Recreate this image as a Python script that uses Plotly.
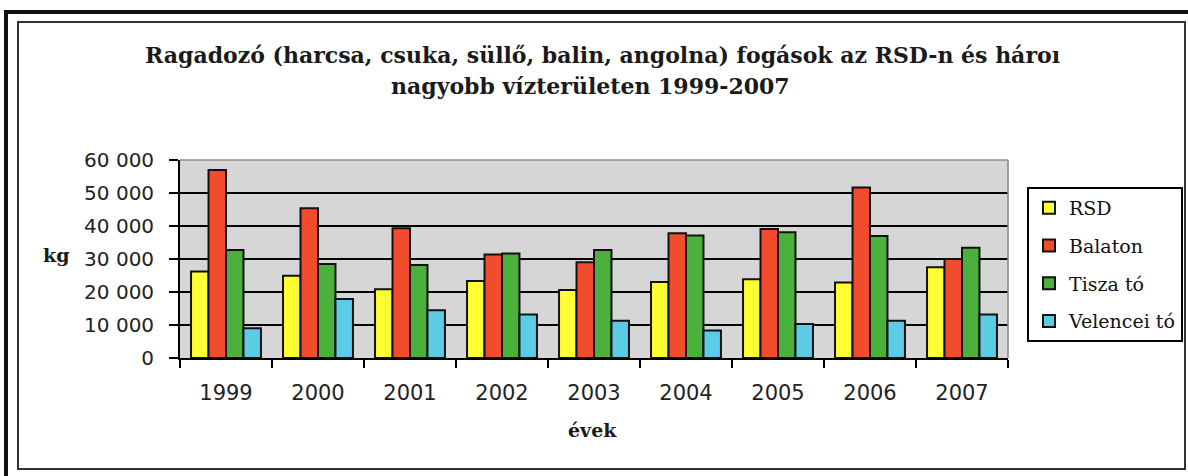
import plotly.graph_objects as go

years = ["1999", "2000", "2001", "2002", "2003", "2004", "2005", "2006", "2007"]
rsd = [26200, 24900, 20800, 23300, 20600, 23000, 23900, 22900, 27500]
balaton = [57000, 45400, 39300, 31400, 29000, 37800, 39100, 51700, 30000]
tisza = [32700, 28500, 28200, 31700, 32700, 37100, 38100, 37000, 33400]
velencei = [9000, 17900, 14500, 13200, 11300, 8300, 10300, 11300, 13200]
series_names = ["RSD", "Balaton", "Tisza tó", "Velencei tó"]
y_ticks = [0, 10000, 20000, 30000, 40000, 50000, 60000]

colors = ["#FFFF33", "#F34B2E", "#4CB03C", "#5CCBE6"]

W, H = 1188, 476
def px(x):
    return x / W
def py(y):
    return 1 - y / H

x0, x1 = 180, 1008
y0, y1 = 160, 358

fig = go.Figure()
for i, (name, vals) in enumerate(zip(series_names, [rsd, balaton, tisza, velencei])):
    fig.add_trace(go.Bar(
        x=years, y=vals, name=name, legendgroup=name,
        marker=dict(color=colors[i], line=dict(color="#111", width=2)),
    ))

fig.update_layout(
    width=W, height=H,
    margin=dict(l=0, r=0, t=0, b=0, autoexpand=False),
    paper_bgcolor="white",
    plot_bgcolor="#D6D6D6",
    barmode="group",
    bargap=0.24,
    bargroupgap=0.0,
    separators=", ",
    showlegend=True,
    legend=dict(
        x=px(1027), y=py(187), xanchor="left", yanchor="top",
        bgcolor="white", bordercolor="black", borderwidth=2,
        font=dict(family="DejaVu Serif", size=19, color="#111"),
        traceorder="grouped", tracegroupgap=10,
    ),
    xaxis=dict(
        domain=[px(x0), px(x1)],
        type="category",
        tickson="boundaries",
        ticks="outside", ticklen=8, tickcolor="black", tickwidth=1.5,
        showgrid=False,
        showline=True, linecolor="black", linewidth=1.8,
        tickfont=dict(family="DejaVu Sans", size=21, color="#222"),
        ticklabelstandoff=15,
    ),
    yaxis=dict(
        domain=[py(y1), py(y0)],
        range=[0, 60000],
        tickvals=y_ticks,
        tickformat=",d",
        ticks="outside", ticklen=9, tickcolor="black", tickwidth=1.5,
        showgrid=True, gridcolor="black", gridwidth=1.5,
        zeroline=False,
        showline=True, linecolor="black", linewidth=1.8,
        tickfont=dict(family="DejaVu Sans", size=20, color="#222"),
        ticklabelstandoff=11,
    ),
    shapes=[
        # plot area top/right gray border
        dict(type="line", xref="paper", yref="paper", x0=px(x0), x1=px(x1), y0=py(y0), y1=py(y0),
             line=dict(color="#8C8C8C", width=1.6), layer="above"),
        dict(type="line", xref="paper", yref="paper", x0=px(x1), x1=px(x1), y0=py(y0), y1=py(y1),
             line=dict(color="#8C8C8C", width=1.6), layer="above"),
        # outer thick frame
        dict(type="line", xref="paper", yref="paper", x0=px(4), x1=1, y0=py(12), y1=py(12),
             line=dict(color="#111", width=4)),
        dict(type="line", xref="paper", yref="paper", x0=px(6), x1=px(6), y0=py(10), y1=0,
             line=dict(color="#111", width=4)),
        # inner frame
        dict(type="rect", xref="paper", yref="paper", x0=px(18), x1=px(1185), y0=py(469), y1=py(22),
             line=dict(color="#333", width=2)),
    ],
    annotations=[
        dict(text="<b>Ragadozó (harcsa, csuka, süllő, balin, angolna) fogások az RSD-n és hároı</b>",
             x=px(143), y=py(55), xref="paper", yref="paper", xanchor="left", yanchor="middle",
             showarrow=False, font=dict(family="DejaVu Serif", size=22, color="#1a1a1a")),
        dict(text="<b>nagyobb vízterületen 1999-2007</b>",
             x=px(590), y=py(86), xref="paper", yref="paper", xanchor="center", yanchor="middle",
             showarrow=False, font=dict(family="DejaVu Serif", size=22, color="#1a1a1a")),
        dict(text="<b>kg</b>", x=px(56), y=py(255), xref="paper", yref="paper",
             xanchor="center", yanchor="middle", showarrow=False,
             font=dict(family="DejaVu Serif", size=19, color="#1a1a1a")),
        dict(text="<b>évek</b>", x=px(592), y=py(430), xref="paper", yref="paper",
             xanchor="center", yanchor="middle", showarrow=False,
             font=dict(family="DejaVu Serif", size=19, color="#1a1a1a")),
    ],
)

fig.write_html("out.html", config={"displayModeBar": False},
               post_script="document.body.style.margin='0';document.body.style.overflow='hidden';")
